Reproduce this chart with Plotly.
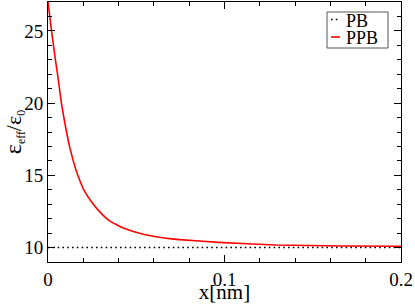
import plotly.graph_objects as go

# data
x_ppb = [0, 0.0020, 0.0031, 0.0042, 0.0054, 0.0065, 0.0076, 0.0090, 0.0105,
         0.0122, 0.0143, 0.0169, 0.0203, 0.0241, 0.0292, 0.0348, 0.0405,
         0.0462, 0.0518, 0.0575, 0.0632, 0.0688, 0.0745, 0.0966, 0.129, 0.167, 0.2]
y_ppb = [27.0, 25.0, 24.0, 23.0, 22.0, 21.0, 20.0, 19.0, 18.0,
         17.0, 16.0, 15.0, 14.0, 13.26, 12.49, 11.86, 11.48,
         11.20, 10.99, 10.83, 10.71, 10.62, 10.55, 10.36, 10.18, 10.11, 10.09]
x_pb = [0, 0.2]
y_pb = [10, 10]
x_ticks = [0, 0.1, 0.2]
x_ticklabels = ["0", "0.1", "0.2"]
y_ticks = [10, 15, 20, 25]
series_names = ["PB", "PPB"]

FONT = "Liberation Serif, Times New Roman, serif"

fig = go.Figure()
fig.add_trace(go.Scatter(x=x_pb, y=y_pb, mode="lines", name=series_names[0],
                         line=dict(color="black", width=1.6, dash="1.6px,3.2px"),
                         showlegend=False))
fig.add_trace(go.Scatter(x=x_ppb, y=y_ppb, mode="lines", name=series_names[1],
                         line=dict(color="#ff0000", width=1.6, shape="spline", smoothing=0.3),
                         showlegend=False))

axis_common = dict(showline=True, linecolor="black", linewidth=1, mirror="allticks",
                   ticks="inside", ticklen=7, tickwidth=1, tickcolor="black",
                   showgrid=False, zeroline=False, automargin=False,
                   tickfont=dict(family=FONT, size=19, color="black"))

fig.update_xaxes(range=[0, 0.2], tickvals=x_ticks, ticktext=x_ticklabels,
                 minor=dict(dtick=0.02, tick0=0, ticks="inside", ticklen=4,
                            tickcolor="black", showgrid=False),
                 title=dict(text="x[nm]", font=dict(family=FONT, size=21, color="black"),
                            standoff=0),
                 **axis_common)
fig.update_yaxes(range=[9, 27], tickvals=y_ticks,
                 minor=dict(dtick=1, tick0=0, ticks="inside", ticklen=4,
                            tickcolor="black", showgrid=False),
                 title=dict(text='<span style="font-size:24px">ε</span><sub>eff</sub>'
                                 '<span style="font-size:22px">/ε</span><sub>0</sub>',
                            font=dict(family=FONT, size=17, color="black"), standoff=3),
                 ticklabelstandoff=0,
                 **axis_common)

# legend drawn by hand to match the reference's compact box
def px(xp):
    return (xp - 48) / 353

def py(yp):
    return (262 - yp) / 260

shapes = [
    dict(type="rect", xref="paper", yref="paper", x0=px(327), x1=px(388), y0=py(48),
         y1=py(12), line=dict(color="#555555", width=1), fillcolor="white", layer="above"),
    dict(type="line", xref="paper", yref="paper", x0=px(331), x1=px(340), y0=py(19.5),
         y1=py(19.5), line=dict(color="black", width=1.6, dash="1.6px,3.2px")),
    dict(type="line", xref="paper", yref="paper", x0=px(331), x1=px(340), y0=py(37),
         y1=py(37), line=dict(color="#ff0000", width=1.6)),
]
annotations = [
    dict(text=series_names[0], xref="paper", yref="paper", x=px(344), y=py(21),
         xanchor="left", yanchor="middle", showarrow=False,
         font=dict(family=FONT, size=18, color="black")),
    dict(text=series_names[1], xref="paper", yref="paper", x=px(344), y=py(38),
         xanchor="left", yanchor="middle", showarrow=False,
         font=dict(family=FONT, size=18, color="black")),
]

fig.update_layout(width=415, height=304, margin=dict(l=48, r=14, t=2, b=42),
                  font=dict(family=FONT),
                  paper_bgcolor="white", plot_bgcolor="white",
                  shapes=shapes, annotations=annotations, showlegend=False)

fig.write_html("out.html", config={"displayModeBar": False},
               post_script="document.body.style.margin='0';document.body.style.padding='0';")
